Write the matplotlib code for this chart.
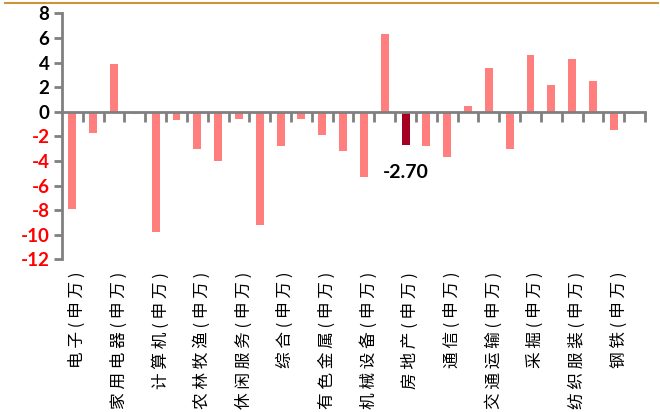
import numpy as np
import matplotlib.pyplot as plt
import matplotlib.transforms as mtransforms

plt.rcParams['axes.unicode_minus'] = False

industries = ['电子', '传媒', '家用电器', '医药生物', '计算机', '食品饮料',
              '农林牧渔', '化工', '休闲服务', '轻工制造', '综合', '电气设备',
              '有色金属', '国防军工', '机械设备', '汽车', '房地产', '商业贸易',
              '通信', '建筑材料', '交通运输', '建筑装饰', '采掘', '公用事业',
              '纺织服装', '银行', '钢铁', '非银金融']
changes = [-7.9, -1.7, 3.9, -0.2, -9.8, -0.7, -3.0, -4.0, -0.6, -9.2,
           -2.8, -0.6, -1.9, -3.2, -5.3, 6.3, -2.70, -2.8, -3.7, 0.5,
           3.6, -3.0, 4.6, 2.2, 4.3, 2.5, -1.5, -0.2]
highlight = '房地产'
y_ticks = list(range(-12, 9, 2))

fig = plt.figure(figsize=(6.6, 4.12), dpi=100)
ax = fig.add_axes([62 / 660, 1 - 259.3 / 412, 583 / 660, 245.8 / 412])

x = np.arange(len(industries))
colors = ['#A50021' if name == highlight else '#FF7F7F' for name in industries]
ax.bar(x, changes, width=0.38, color=colors, zorder=2)

# value tag under the highlighted bar
hi = industries.index(highlight)
ax.annotate(f'{changes[hi]:.2f}', xy=(hi, changes[hi]), xytext=(0, -20),
            textcoords='offset points', ha='center', va='center',
            fontsize=14, fontweight='bold', family='Lato', color='black')

ax.set_xlim(-0.5, len(industries) - 0.5)
ax.set_ylim(-12, 8)

for side in ['top', 'right']:
    ax.spines[side].set_visible(False)
ax.spines['bottom'].set_position(('data', 0))
for side in ['left', 'bottom']:
    ax.spines[side].set_color('#808080')
    ax.spines[side].set_linewidth(2)
    ax.spines[side].set_zorder(3)

ax.set_xticks(np.arange(0.5, len(industries), 1))
ax.set_xticklabels([])
ax.tick_params(axis='x', direction='out', length=7, width=2, color='#808080')

ax.set_yticks(y_ticks)
ax.set_yticklabels([str(v) for v in y_ticks], fontsize=13.5, fontweight='bold',
                   family='Lato')
ax.tick_params(axis='y', direction='out', length=6, width=2, color='#808080', pad=3)
for lbl, v in zip(ax.get_yticklabels(), y_ticks):
    lbl.set_color('red' if v < 0 else 'black')

# every other category name, written vertically below the plot
shift = mtransforms.ScaledTranslation(5 / 100, 0, fig.dpi_scale_trans)
trans = mtransforms.blended_transform_factory(ax.transData, fig.transFigure) + shift
for i, name in enumerate(industries):
    if i % 2 == 0:
        label = ' '.join(name + '(申万)')
        ax.text(i, 1 - 272 / 412, label, rotation=90, ha='center', va='top',
                fontsize=12, family=['Noto Sans CJK SC', 'DejaVu Sans'],
                transform=trans, clip_on=False)

# thin rule along the top edge
fig.add_artist(plt.Line2D([5 / 660, 658 / 660], [1 - 2.5 / 412, 1 - 2.5 / 412],
                          color='#C9963A', linewidth=1.5))

fig.savefig('out.png', dpi=100)
